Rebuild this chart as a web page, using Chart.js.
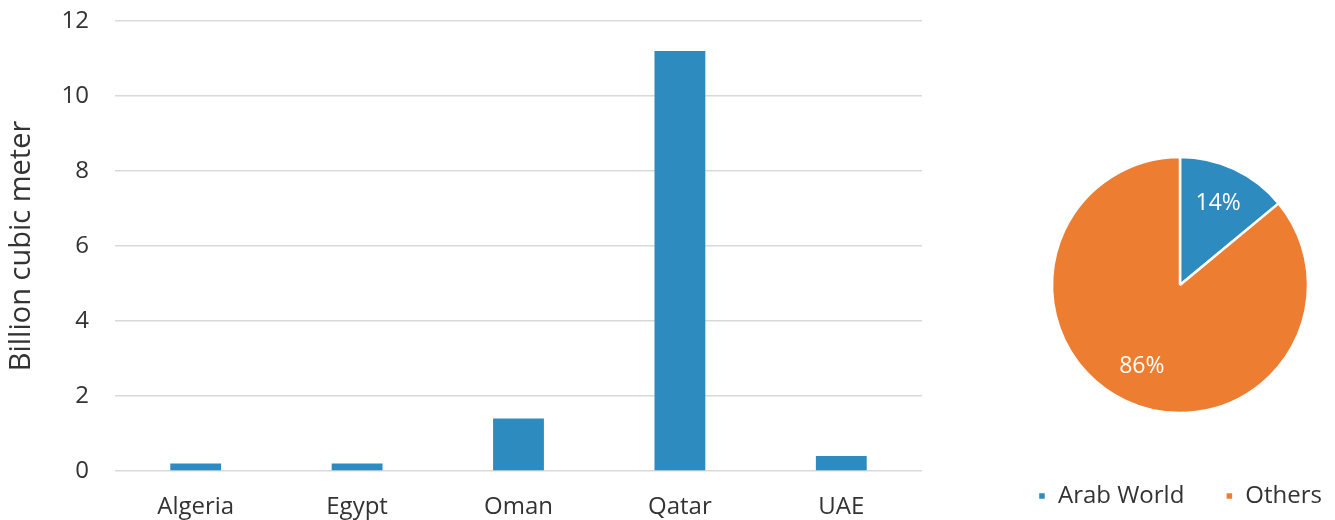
<!DOCTYPE html>
<html>
<head>
<meta charset="utf-8">
<script src="https://cdn.jsdelivr.net/npm/chart.js@4/dist/chart.umd.min.js"></script>
<style>
  html, body { margin: 0; padding: 0; background: #fff; overflow: hidden; }
  body { width: 1335px; height: 520px; position: relative; }
  #bar-wrap { position: absolute; left: 0; top: 0; width: 935px; height: 520px; }
  #pie-wrap { position: absolute; left: 995px; top: 0; width: 370px; height: 520px; }
</style>
</head>
<body>
<div id="bar-wrap"><canvas id="bar-chart"></canvas></div>
<div id="pie-wrap"><canvas id="pie-chart"></canvas></div>
<script>
const countries = ["Algeria", "Egypt", "Oman", "Qatar", "UAE"];
const exportValues = [0.2, 0.2, 1.4, 11.2, 0.4];
const yTicks = [0, 2, 4, 6, 8, 10, 12];

const shareLabels = ["Arab World", "Others"];
const shareValues = [14, 86];

const BLUE = "#2e8bc0";
const ORANGE = "#ed7d31";
const TEXT = "#333333";
const FONT = "'Open Sans', sans-serif";

Chart.defaults.font.family = FONT;
Chart.defaults.color = TEXT;

// bar chart
const barEl = document.getElementById("bar-chart");
new Chart(barEl, {
  type: "bar",
  data: {
    labels: countries,
    datasets: [
      {
        label: "Billion cubic meter",
        data: exportValues,
        backgroundColor: BLUE,
        barPercentage: 0.63,
        categoryPercentage: 0.5,
      },
    ],
  },
  options: {
    responsive: true,
    maintainAspectRatio: false,
    animation: false,
    layout: { padding: { top: 21, right: 13, left: 0, bottom: 0 } },
    plugins: { legend: { display: false }, tooltip: { enabled: false } },
    scales: {
      x: {
        grid: { display: false },
        border: { display: false },
        ticks: { font: { size: 24 }, padding: 14, color: TEXT, maxRotation: 0 },
        afterFit: (scale) => { scale.height = 49; },
      },
      y: {
        min: 0,
        max: 12,
        afterBuildTicks: (scale) => {
          scale.ticks = yTicks.map((v) => ({ value: v }));
        },
        grid: { color: "#d9d9d9", lineWidth: 1.5, drawTicks: false },
        border: { display: false },
        ticks: { font: { size: 24 }, padding: 26, color: TEXT },
        title: {
          display: true,
          text: "Billion cubic meter",
          font: { size: 29 },
          color: TEXT,
          padding: { top: 4, bottom: 0 },
        },
        afterFit: (scale) => {
          scale.width = 115;
          // tick padding would otherwise push the plot down
          scale.paddingTop = 0;
          scale.paddingBottom = 0;
        },
      },
    },
  },
});

// pie labels drawn inside slices
const sliceLabels = {
  id: "sliceLabels",
  afterDatasetsDraw(chart) {
    const { ctx } = chart;
    const meta = chart.getDatasetMeta(0);
    ctx.save();
    ctx.fillStyle = "#ffffff";
    ctx.font = "23px " + FONT;
    ctx.textAlign = "center";
    ctx.textBaseline = "middle";
    meta.data.forEach((arc, i) => {
      const p = arc.getProps(["x", "y", "startAngle", "endAngle", "outerRadius"], true);
      const mid = (p.startAngle + p.endAngle) / 2;
      const r = p.outerRadius * 0.7;
      ctx.fillText(shareValues[i] + "%", p.x + Math.cos(mid) * r, p.y + Math.sin(mid) * r);
    });
    ctx.restore();
  },
};

const pieEl = document.getElementById("pie-chart");
new Chart(pieEl, {
  type: "pie",
  data: {
    labels: shareLabels,
    datasets: [
      {
        data: shareValues,
        backgroundColor: [BLUE, ORANGE],
        borderColor: "#ffffff",
        borderWidth: 2.5,
        radius: 128,
      },
    ],
  },
  options: {
    responsive: true,
    maintainAspectRatio: false,
    animation: false,
    layout: { padding: { top: 127, bottom: 2, left: 0, right: 0 } },
    plugins: {
      tooltip: { enabled: false },
      legend: {
        position: "bottom",
        labels: {
          boxWidth: 8,
          boxHeight: 8,
          padding: 41,
          color: TEXT,
          font: { size: 24 },
        },
      },
    },
  },
  plugins: [sliceLabels],
});
</script>
</body>
</html>
